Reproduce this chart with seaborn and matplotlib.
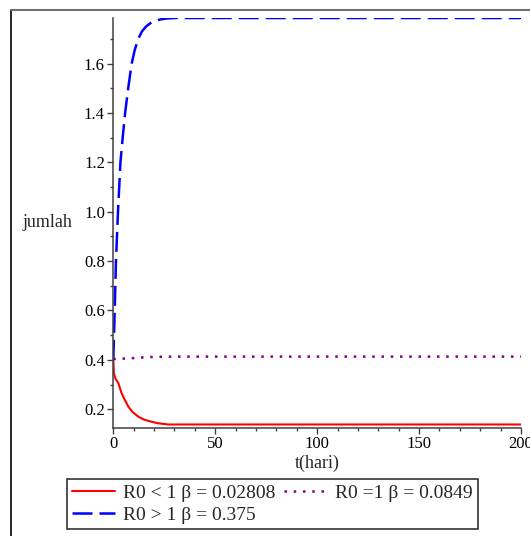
import matplotlib
matplotlib.use("Agg")
import matplotlib.pyplot as plt
import seaborn as sns
from matplotlib.lines import Line2D
from matplotlib.ticker import MultipleLocator

# Values
t_red = [0, 0.3, 1, 2.5, 4, 5.5, 7.4, 9.5, 12.4, 15, 18.8, 22, 27, 200]
y_red = [0.40, 0.345, 0.325, 0.305, 0.266, 0.24, 0.21, 0.188, 0.169, 0.158,
         0.149, 0.143, 0.138, 0.138]

t_blue = [0, 0.7, 1.3, 1.8, 2.3, 2.9, 3.5, 4.6, 5.8, 7.3, 9.0, 10.5, 12.2,
          14, 16, 18, 20, 23, 26, 30, 200]
y_blue = [0.40, 0.60, 0.80, 0.90, 1.00, 1.10, 1.20, 1.30, 1.40, 1.50, 1.60,
          1.655, 1.70, 1.73, 1.75, 1.763, 1.772, 1.779, 1.783, 1.785, 1.785]

t_purple = [0, 5, 10, 15, 20, 30, 200]
y_purple = [0.403, 0.405, 0.407, 0.410, 0.412, 0.413, 0.413]

labels = ["R0 < 1 β = 0.02808", "R0 > 1 β = 0.375", "R0 =1 β = 0.0849"]

sns.set_style("ticks")
plt.rcParams['font.family'] = ['Liberation Serif', 'DejaVu Serif']

fig = plt.figure(figsize=(5.3, 5.36), dpi=100)
ax = fig.add_axes([113.3 / 530, 1 - 427.7 / 536,
                   (521 - 113.3) / 530, (427.7 - 18) / 536])

sns.lineplot(x=t_red, y=y_red, ax=ax, color="#ff0000", linewidth=1.5,
             label=labels[0])
sns.lineplot(x=t_blue, y=y_blue, ax=ax, color="#0000ff", linewidth=1.8,
             linestyle=(0, (8, 2.8)), label=labels[1])
sns.lineplot(x=t_purple, y=y_purple, ax=ax, color="#800080", linewidth=1.8,
             linestyle=(0, (1, 2.7)), label=labels[2])
for ln in ax.get_lines():
    ln.set_dash_capstyle("butt")

ax.set_xlim(0, 200)
ax.set_ylim(0.125, 1.785)
ax.xaxis.set_major_locator(MultipleLocator(50))
ax.xaxis.set_minor_locator(MultipleLocator(10))
ax.yaxis.set_minor_locator(MultipleLocator(0.1))
ax.set_yticks([0.2, 0.4, 0.6, 0.8, 1.0, 1.2, 1.4, 1.6])
ax.set_yticklabels(["0.2", "0.4", "0.6", "0.8", "1.0", "1.2", "1.4", "1.6"])

sns.despine(ax=ax)
for side in ["left", "bottom"]:
    ax.spines[side].set_color("#404040")
    ax.spines[side].set_linewidth(1.1)
ax.tick_params(which="major", length=4, width=1, color="#404040",
               labelsize=12, pad=2, labelcolor="black")
ax.tick_params(which="minor", length=2.5, width=1, color="#404040")

ax.set_xlabel("t(hari)", fontsize=13, va="center")
ax.set_ylabel("jumlah", fontsize=13, rotation=0, ha="center", va="center")
ax.xaxis.set_label_coords(0.5, -0.086)
ax.yaxis.set_label_coords(-0.161, 0.502)

ax.get_legend().remove()
leg = fig.legend(handles=ax.get_lines(), labels=labels, ncol=2,
                 loc="upper left", bbox_to_anchor=(67 / 530, 1 - 479 / 536),
                 borderaxespad=0, fontsize=14, frameon=True, fancybox=False,
                 edgecolor="black", handlelength=2.2, handletextpad=0.4,
                 columnspacing=0.45, labelspacing=0.2, borderpad=0.28)
leg.get_frame().set_linewidth(1.2)

# outer plot frame
fig.add_artist(Line2D([11 / 530, 11 / 530], [0, 1 - 10 / 536],
                      transform=fig.transFigure, color="black", linewidth=1.2))
fig.add_artist(Line2D([11 / 530, 1], [1 - 10 / 536, 1 - 10 / 536],
                      transform=fig.transFigure, color="#707070", linewidth=1.5))

fig.savefig("out.png", dpi=100)
